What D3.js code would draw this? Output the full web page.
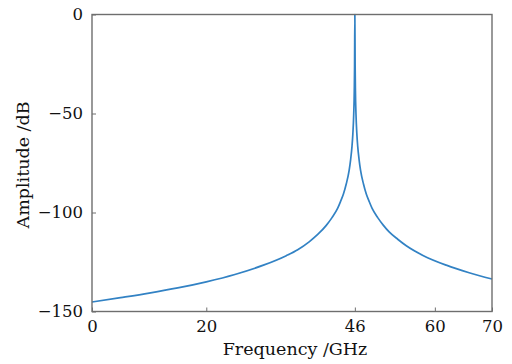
<!DOCTYPE html>
<html>
<head>
<meta charset="utf-8">
<script src="https://cdn.jsdelivr.net/npm/d3@7"></script>
<style>
  html, body { margin: 0; padding: 0; background: #fff; }
  svg { display: block; }
  text { font-family: "DejaVu Serif", serif; fill: #111; }
</style>
</head>
<body>
<script>
// Data
const frequencyGHz = [0, 5, 10, 15, 20, 25, 30, 34, 36, 38, 39.5, 41, 42, 43, 43.5, 44, 44.5, 45, 45.25, 45.5, 45.65, 45.8, 45.9, 45.95, 46,
  46.05, 46.1, 46.2, 46.35, 46.5, 46.75, 47, 47.5, 48, 48.5, 49, 50, 51, 52, 53.5, 55, 58, 62, 66, 70];
const amplitudeDB = [-145.2, -143, -140.7, -138.1, -135, -131.3, -126.6, -121.8, -118.8, -114.8, -111.1, -106.5, -102.6, -97.8, -94.4, -90.7, -85.5, -78.7, -73.5, -66.6, -60.3, -50.5, -38.5, -26, 0,
  -26, -38.5, -50.5, -60.3, -66.6, -73.5, -78.7, -85.5, -90.7, -94.4, -97.8, -102.6, -106.5, -109.8, -113.5, -116.8, -121.8, -126.6, -130.4, -133.6];
const xTicks = [0, 20, 46, 60, 70];
const yTicks = [0, -50, -100, -150];

const W = 512, H = 364;
const m = { left: 92, right: 20, top: 14.5, bottom: 52.5 };

const svg = d3.select("body").append("svg").attr("width", W).attr("height", H);

const x = d3.scaleLinear().domain([0, 70]).range([m.left, W - m.right]);
const y = d3.scaleLinear().domain([-150, 0]).range([H - m.bottom, m.top]);

const axisColor = "#6e6e6e";

// curve
const line = d3.line().x((d, i) => x(frequencyGHz[i])).y(d => y(d)).curve(d3.curveMonotoneX);
svg.append("path")
  .datum(amplitudeDB)
  .attr("d", line)
  .attr("fill", "none")
  .attr("stroke", "#3282c4")
  .attr("stroke-width", 1.7)
  .attr("stroke-linejoin", "round");

// box
svg.append("rect")
  .attr("x", x(0)).attr("y", y(0))
  .attr("width", x(70) - x(0)).attr("height", y(-150) - y(0))
  .attr("fill", "none").attr("stroke", axisColor).attr("stroke-width", 1.4);

// bottom axis
const xAxis = d3.axisBottom(x).tickValues(xTicks).tickSize(-4).tickPadding(9).tickFormat(d3.format("d"));
const gx = svg.append("g").attr("transform", `translate(0,${y(-150)})`).call(xAxis);
gx.select(".domain").remove();
gx.selectAll(".tick line").attr("stroke", axisColor).attr("stroke-width", 1);
gx.selectAll(".tick text").attr("font-size", 16.5).attr("fill", "#111")
  .attr("font-family", "DejaVu Serif, serif");

// left axis
const yAxis = d3.axisLeft(y).tickValues(yTicks).tickSize(-4).tickPadding(9)
  .tickFormat(d => d3.format("d")(d).replace("-", "\u2212"));
const gy = svg.append("g").attr("transform", `translate(${x(0)},0)`).call(yAxis);
gy.select(".domain").remove();
gy.selectAll(".tick line").attr("stroke", axisColor).attr("stroke-width", 1);
gy.selectAll(".tick text").attr("font-size", 16.5).attr("fill", "#111")
  .attr("font-family", "DejaVu Serif, serif");

// axis labels
svg.append("text")
  .attr("x", (x(0) + x(70)) / 2 + 3).attr("y", 355)
  .attr("text-anchor", "middle").attr("font-size", 17.5)
  .text("Frequency /GHz");

svg.append("text")
  .attr("transform", `translate(29,${(y(0) + y(-150)) / 2 + 2}) rotate(-90)`)
  .attr("text-anchor", "middle").attr("font-size", 17.5)
  .text("Amplitude /dB");
</script>
</body>
</html>
